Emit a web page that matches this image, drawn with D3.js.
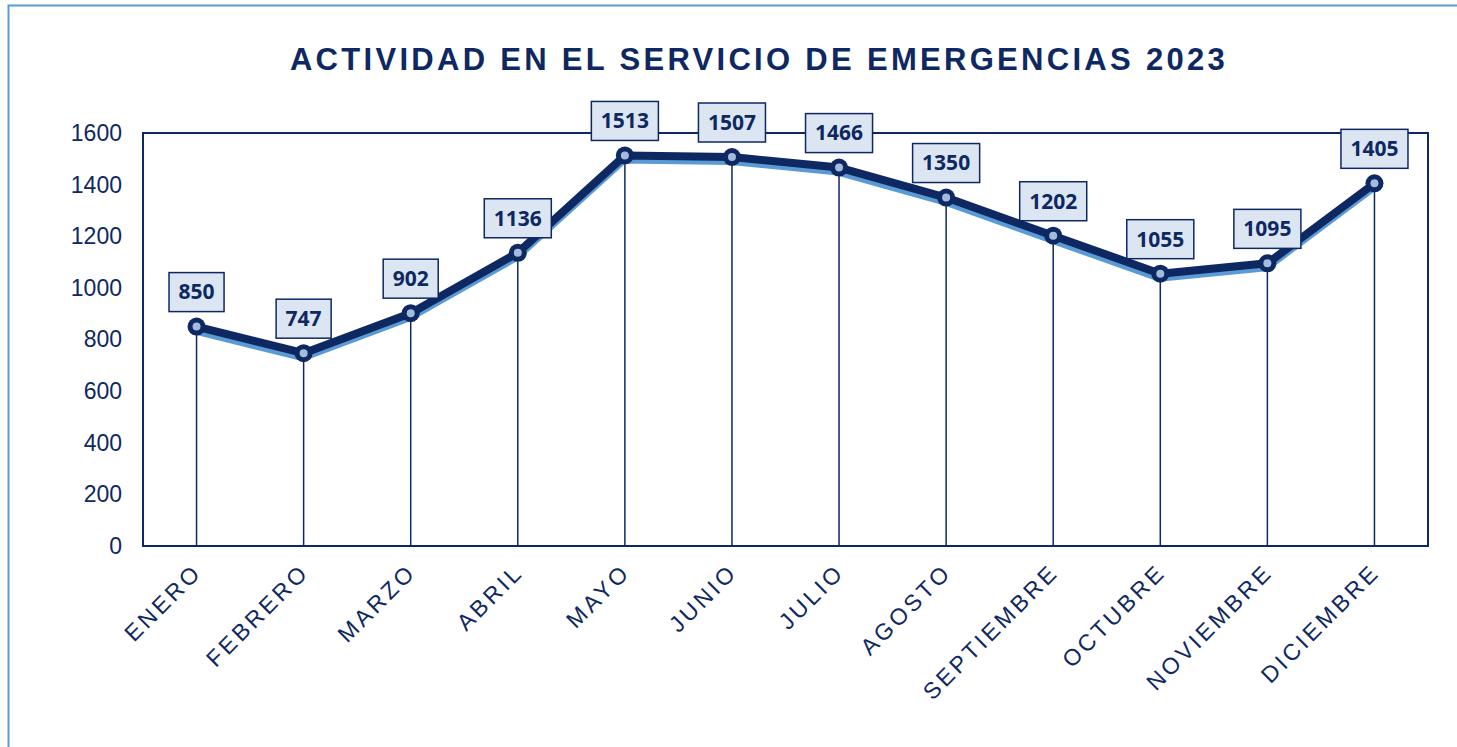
<!DOCTYPE html>
<html><head><meta charset="utf-8">
<script src="https://cdn.jsdelivr.net/npm/d3@7"></script>
<style>body{margin:0;background:#fff}svg{display:block}</style>
</head><body><svg id="c" width="1457" height="747"></svg>
<script>
const months = ["ENERO","FEBRERO","MARZO","ABRIL","MAYO","JUNIO","JULIO","AGOSTO","SEPTIEMBRE","OCTUBRE","NOVIEMBRE","DICIEMBRE"];
const values = [850,747,902,1136,1513,1507,1466,1350,1202,1055,1095,1405];
const yTicks = [0,200,400,600,800,1000,1200,1400,1600];
const title = "ACTIVIDAD EN EL SERVICIO DE EMERGENCIAS 2023";

const navy = "#0e2862", light = "#5b9bd5";
const svg = d3.select("#c");
svg.append("rect").attr("x",8.5).attr("y",5.5).attr("width",1460).attr("height",760)
  .attr("fill","#fff").attr("stroke",light).attr("stroke-width",2);

const L=143,R=1428,T=133,B=546;
const x = d3.scaleBand().domain(months).range([L,R]);
const y = d3.scaleLinear().domain([0,1600]).range([B,T]);
const cx = m => x(m)+x.bandwidth()/2;

svg.append("text").attr("x",759).attr("y",70).attr("text-anchor","middle")
  .attr("font-family","Liberation Sans, Arial, sans-serif").attr("font-weight","bold")
  .attr("font-size",31).attr("letter-spacing",3.3).attr("fill",navy).text(title);

// y axis labels
const ya = svg.append("g").attr("transform",`translate(${L},0)`)
  .call(d3.axisLeft(y).tickValues(yTicks).tickFormat(d3.format("d")).tickSize(0).tickPadding(21));
ya.select(".domain").remove();
ya.selectAll("text").attr("font-family","Liberation Sans, Arial, sans-serif").attr("font-size",23).attr("fill",navy);

// x axis labels
const xa = svg.append("g").attr("transform",`translate(0,${B})`)
  .call(d3.axisBottom(x).tickSize(0).tickPadding(0));
xa.select(".domain").remove();
xa.selectAll("text").attr("font-family","Liberation Sans, Arial, sans-serif").attr("font-size",23)
  .attr("fill",navy).attr("letter-spacing",3.2).attr("text-anchor","end")
  .attr("transform","translate(1,22) rotate(-45)").attr("dy","0.35em").attr("y",0);

// drop lines
svg.append("g").selectAll("line").data(months).join("line")
  .attr("x1",cx).attr("x2",cx).attr("y1",(m,i)=>y(values[i])).attr("y2",B)
  .attr("stroke",navy).attr("stroke-width",1.5);

// plot border
svg.append("rect").attr("x",L).attr("y",T).attr("width",R-L).attr("height",B-T)
  .attr("fill","none").attr("stroke",navy).attr("stroke-width",2);

const line = d3.line().x((d,i)=>cx(months[i])).y(d=>y(d));
svg.append("path").datum(values).attr("d",line).attr("fill","none")
  .attr("stroke",light).attr("stroke-width",8).attr("stroke-linejoin","round")
  .attr("transform","translate(-1,4)");
svg.append("path").datum(values).attr("d",line).attr("fill","none")
  .attr("stroke",navy).attr("stroke-width",8).attr("stroke-linejoin","round");

const pts = svg.append("g").selectAll("g").data(values).join("g")
  .attr("transform",(d,i)=>`translate(${cx(months[i])},${y(d)})`);
pts.append("circle").attr("r",9).attr("fill",navy);
pts.append("circle").attr("r",4).attr("fill","#a3bbdc");

// data labels
const lab = svg.append("g").selectAll("g").data(values).join("g")
  .attr("transform",(d,i)=>`translate(${cx(months[i])},${y(d)-15})`);
const rects = lab.append("rect").attr("y",-39).attr("height",39)
  .attr("fill","#dce6f2").attr("stroke",navy).attr("stroke-width",1.5);
const txt = lab.append("text").attr("text-anchor","middle").attr("y",-19.5).attr("dy","0.35em")
  .attr("font-family","Open Sans, Liberation Sans, sans-serif").attr("font-weight","bold")
  .attr("font-size",21).attr("fill",navy).text(d=>d);
txt.each(function(d){
  const w = this.getComputedTextLength() + 19;
  d3.select(this.parentNode).select("rect").attr("x",-w/2).attr("width",w);
});
</script></body></html>
